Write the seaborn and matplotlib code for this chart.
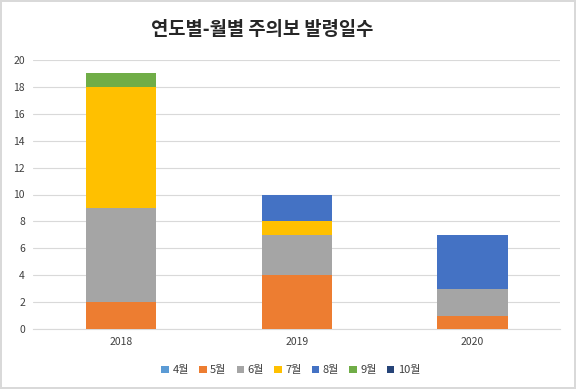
import numpy as np
import pandas as pd
import matplotlib.pyplot as plt
import seaborn as sns
from matplotlib.patches import Patch

years = ['2018', '2019', '2020']
months = ['4월', '5월', '6월', '7월', '8월', '9월', '10월']
colors = ['#5B9BD5', '#ED7D31', '#A5A5A5', '#FFC000', '#4472C4', '#70AD47', '#264478']

apr = [0, 0, 0]
may = [2, 4, 1]
jun = [7, 3, 2]
jul = [9, 1, 0]
aug = [0, 2, 4]
sep = [1, 0, 0]
octo = [0, 0, 0]

sns.set_style('white')
plt.rcParams['font.family'] = ['Noto Sans CJK KR', 'DejaVu Sans']

vals = np.array([apr, may, jun, jul, aug, sep, octo], dtype=float)
cum = vals.cumsum(axis=0)

fig = plt.figure(figsize=(5.76, 3.89), dpi=100)
fig.patch.set_edgecolor('#D9D9D9')
fig.patch.set_linewidth(1.5)
ax = fig.add_axes([0.058, 0.154, 0.915, 0.692])

# overlay cumulative totals, tallest first
for i in range(len(months) - 1, -1, -1):
    df = pd.DataFrame({'year': years, 'value': cum[i]})
    sns.barplot(data=df, x='year', y='value', color=colors[i], width=0.4,
                saturation=1, ax=ax, zorder=3, edgecolor='none', linewidth=0)

ax.set_ylim(0, 20)
ax.set_yticks(range(0, 21, 2))
ax.yaxis.grid(True, color='#D9D9D9', linewidth=0.8, zorder=0)
ax.set_axisbelow(True)
for s in ['top', 'right', 'left']:
    ax.spines[s].set_visible(False)
ax.spines['bottom'].set_color('#D9D9D9')
ax.tick_params(axis='both', length=0, labelsize=7.5, colors='#404040', pad=6)
ax.set_xlabel('')
ax.set_ylabel('')

fig.text(0.455, 0.925, '연도별-월별 주의보 발령일수', ha='center', va='center',
         fontsize=13.5, fontweight='bold', color='#262626')

handles = [Patch(facecolor=c, edgecolor='none', label=m) for m, c in zip(months, colors)]
fig.legend(handles=handles, loc='center', bbox_to_anchor=(0.505, 0.048), ncol=7,
           frameon=False, fontsize=8, handlelength=0.7, handleheight=0.7,
           handletextpad=0.3, columnspacing=0.9, labelcolor='#404040')

fig.savefig('out.png', dpi=100)
